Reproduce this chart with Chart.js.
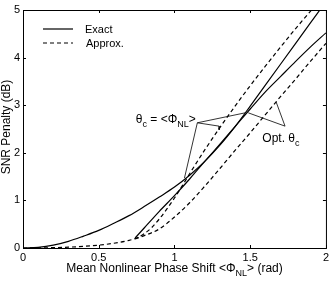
<!DOCTYPE html>
<html>
<head>
<meta charset="utf-8">
<script src="https://cdn.jsdelivr.net/npm/chart.js@4/dist/chart.umd.min.js"></script>
<style>body{margin:0;background:#fff}</style>
</head>
<body>
<canvas id="myChart" width="332" height="281"></canvas>
<script>
// theta_c = <Phi_NL>, exact (solid, starts at 0)
const phiA = [0, 0.1, 0.2, 0.3, 0.4, 0.5, 0.6, 0.7, 0.8, 0.9, 1.0, 1.1, 1.2, 1.3, 1.4, 1.5, 1.6, 1.7, 1.8, 1.9, 1.96];
const snrA = [0, 0.015, 0.06, 0.14, 0.25, 0.37, 0.52, 0.68, 0.87, 1.07, 1.28, 1.53, 1.82, 2.16, 2.55, 2.98, 3.42, 3.86, 4.3, 4.74, 5.0];

// theta_c = <Phi_NL>, approx (dashed, starts at 0)
const phiD = [0, 0.1, 0.2, 0.3, 0.4, 0.5, 0.6, 0.7, 0.75, 0.8, 0.85, 0.9, 0.95, 1.0, 1.05, 1.1, 1.2, 1.3, 1.4, 1.5, 1.6, 1.7, 1.8, 1.905];
const snrD = [0, 0.002, 0.008, 0.018, 0.035, 0.06, 0.1, 0.16, 0.21, 0.3, 0.43, 0.61, 0.82, 1.05, 1.3, 1.56, 2.06, 2.53, 2.98, 3.41, 3.82, 4.22, 4.61, 5.0];

// optimum theta_c, exact (solid)
const phiB = [0.74, 0.8, 0.9, 1.0, 1.1, 1.2, 1.3, 1.4, 1.5, 1.6, 1.7, 1.8, 1.9, 2.0];
const snrB = [0.21, 0.42, 0.77, 1.1, 1.45, 1.82, 2.18, 2.55, 2.92, 3.28, 3.6, 3.92, 4.23, 4.52];

// optimum theta_c, approx (dashed)
const phiC = [0.74, 0.8, 0.9, 1.0, 1.1, 1.2, 1.3, 1.4, 1.5, 1.6, 1.7, 1.8, 1.9, 2.0];
const snrC = [0.19, 0.26, 0.4, 0.65, 0.95, 1.3, 1.67, 2.05, 2.42, 2.8, 3.18, 3.55, 3.93, 4.3];

// label pointer lines
const thetaPtrX = [[1.151, 1.066], [1.151, 1.295, 1.295], [1.151, 1.467]];
const thetaPtrY = [[2.63, 1.47], [2.63, 2.56, 2.48], [2.63, 2.84]];
const optPtrX = [[1.73, 1.487], [1.73, 1.671]];
const optPtrY = [[2.56, 2.84], [2.56, 3.07]];

const xTicks = [0, 0.5, 1, 1.5, 2];
const yTicks = [0, 1, 2, 3, 4, 5];

const FONT = "'Liberation Sans', Arial, Helvetica, sans-serif";
Chart.defaults.font.family = FONT;

function pts(xs, ys) {
    return xs.map((v, i) => ({x: v, y: ys[i]}));
}

function curve(xs, ys, dashed) {
    return {
        data: pts(xs, ys),
        borderColor: '#000',
        borderWidth: 1.2,
        borderDash: dashed ? [4, 3] : [],
        cubicInterpolationMode: 'monotone',
        pointRadius: 0
    };
}

function pointer(xs, ys) {
    return {
        data: pts(xs, ys),
        borderColor: '#000',
        borderWidth: 0.8,
        tension: 0,
        pointRadius: 0
    };
}

const datasets = [
    curve(phiA, snrA, false),
    curve(phiD, snrD, true),
    curve(phiB, snrB, false),
    curve(phiC, snrC, true)
];
thetaPtrX.forEach((xs, i) => datasets.push(pointer(xs, thetaPtrY[i])));
optPtrX.forEach((xs, i) => datasets.push(pointer(xs, optPtrY[i])));

// text with subscripts: parts = [[text, isSub], ...]
function drawRich(ctx, parts, x, y, align, size) {
    const main = size + 'px ' + FONT;
    const sub = Math.round(size * 0.72) + 'px ' + FONT;
    let w = 0;
    parts.forEach(p => { ctx.font = p[1] ? sub : main; w += ctx.measureText(p[0]).width; });
    let cx = align === 'center' ? x - w / 2 : x;
    ctx.textAlign = 'left';
    ctx.textBaseline = 'alphabetic';
    parts.forEach(p => {
        ctx.font = p[1] ? sub : main;
        ctx.fillText(p[0], cx, p[1] ? y + 4 : y);
        cx += ctx.measureText(p[0]).width;
    });
}

const matlabFrame = {
    id: 'matlabFrame',
    afterDraw(chart) {
        const {ctx, chartArea: a, scales: {x, y}} = chart;
        ctx.save();
        ctx.strokeStyle = '#000';
        ctx.fillStyle = '#000';
        ctx.lineWidth = 1;
        ctx.setLineDash([]);
        ctx.strokeRect(a.left + 0.5, a.top + 0.5, a.right - a.left, a.bottom - a.top);

        ctx.beginPath();
        xTicks.forEach(v => {
            const px = Math.round(x.getPixelForValue(v)) + 0.5;
            ctx.moveTo(px, a.bottom); ctx.lineTo(px, a.bottom - 3);
            ctx.moveTo(px, a.top); ctx.lineTo(px, a.top + 3);
        });
        yTicks.forEach(v => {
            const py = Math.round(y.getPixelForValue(v)) + 0.5;
            ctx.moveTo(a.left, py); ctx.lineTo(a.left + 3, py);
            ctx.moveTo(a.right, py); ctx.lineTo(a.right - 3, py);
        });
        ctx.stroke();

        // legend
        const lx = a.left + 20, ly1 = a.top + 19, ly2 = a.top + 33;
        ctx.lineWidth = 1.2;
        ctx.beginPath(); ctx.moveTo(lx, ly1); ctx.lineTo(lx + 30, ly1); ctx.stroke();
        ctx.setLineDash([4, 3]);
        ctx.beginPath(); ctx.moveTo(lx, ly2); ctx.lineTo(lx + 30, ly2); ctx.stroke();
        ctx.setLineDash([]);
        ctx.font = '11px ' + FONT;
        ctx.textAlign = 'left';
        ctx.textBaseline = 'middle';
        ctx.fillText('Exact', lx + 42, ly1 + 1);
        ctx.fillText('Approx.', lx + 43, ly2 + 1);

        // annotations
        drawRich(ctx, [['\u03B8', false], ['c', true], [' = <\u03A6', false], ['NL', true], ['>', false]],
            x.getPixelForValue(0.745), y.getPixelForValue(2.63), 'left', 12);
        drawRich(ctx, [['Opt. \u03B8', false], ['c', true]],
            x.getPixelForValue(1.58), y.getPixelForValue(2.22), 'left', 12);

        // axis titles
        drawRich(ctx, [['Mean Nonlinear Phase Shift <\u03A6', false], ['NL', true], ['> (rad)', false]],
            (a.left + a.right) / 2, 272, 'center', 12);
        ctx.translate(7, 127);
        ctx.rotate(-Math.PI / 2);
        ctx.font = '12px ' + FONT;
        ctx.textAlign = 'center';
        ctx.textBaseline = 'middle';
        ctx.fillText('SNR Penalty (dB)', 0, 0);
        ctx.restore();
    }
};

const ctx = document.getElementById('myChart').getContext('2d');
const myChart = new Chart(ctx, {
    type: 'line',
    data: {datasets: datasets},
    options: {
        responsive: false,
        animation: false,
        layout: {padding: {top: 10, right: 5, left: 0, bottom: 0}},
        plugins: {legend: {display: false}, tooltip: {enabled: false}},
        scales: {
            x: {
                type: 'linear', min: 0, max: 2,
                ticks: {stepSize: 0.5, padding: 3, color: '#000', font: {size: 11}, maxRotation: 0,
                        callback: v => String(v)},
                grid: {display: false, drawTicks: false}, border: {display: false},
                afterFit(s) { s.height = 33; }
            },
            y: {
                min: 0, max: 5,
                ticks: {stepSize: 1, padding: 3, color: '#000', font: {size: 11}},
                grid: {display: false, drawTicks: false}, border: {display: false},
                afterFit(s) { s.width = 23; }
            }
        }
    },
    plugins: [matlabFrame]
});
</script>
</body>
</html>
